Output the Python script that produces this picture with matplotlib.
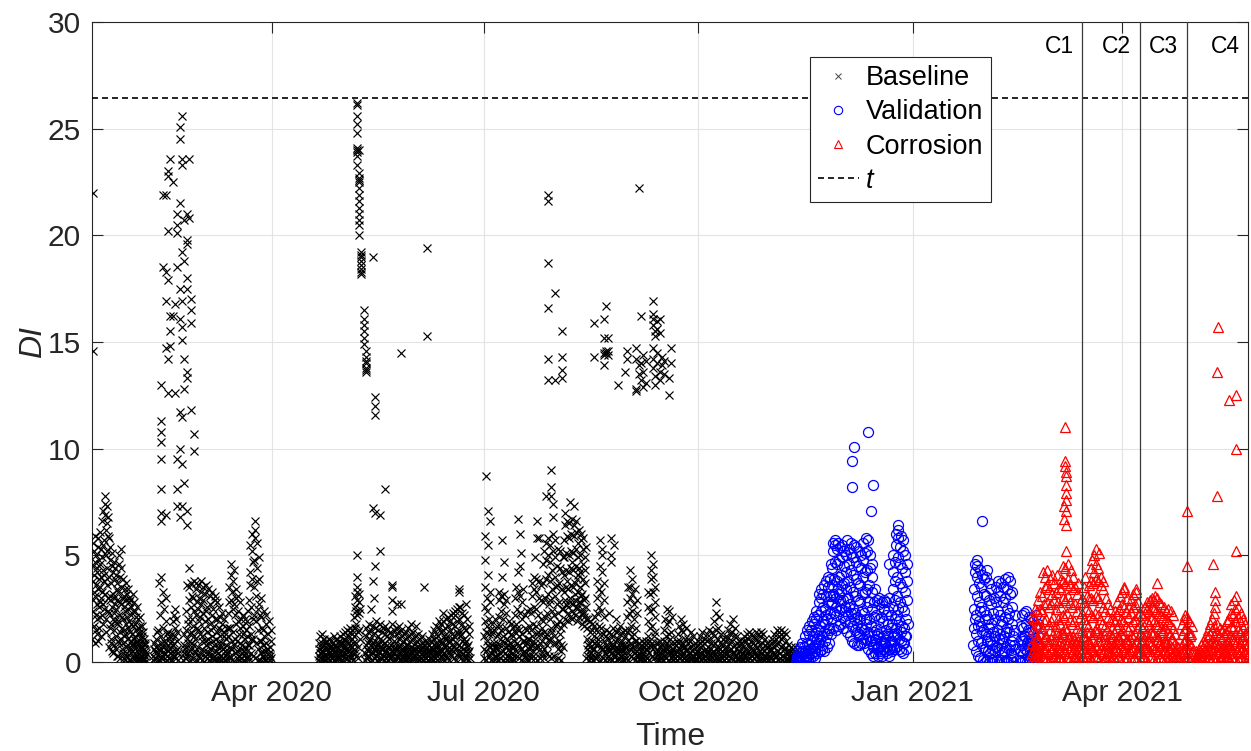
"""
Damage index (DI) over time: baseline, validation and corrosion periods.
"""

from datetime import datetime, timedelta

import matplotlib
matplotlib.use("Agg")
import matplotlib.pyplot as plt
import matplotlib.dates as mdates
from matplotlib.lines import Line2D

plt.rcParams["font.family"] = ["Liberation Sans", "DejaVu Sans"]

# --------------------------------------------------------------------------- #
#  Data: one string of DI values per day, "" = no record that day
# --------------------------------------------------------------------------- #
BASELINE_WINTER_START = "2020-01-15"
BASELINE_WINTER = [
    # Jan 15 - Jan 31
    "1.1 2.4 3.8 5.6 4.5 2.9 1.7 5.2 3.3 4.1",
    "0.9 3.1 4.7 5.9 2.2 1.5 3.6 5.0 2.7 4.4",
    "1.3 2.0 4.2 5.4 3.4 1.0 5.8 2.6 3.9 4.8",
    "1.6 2.8 3.5 6.1 4.6 2.1 5.3 1.2 3.0 4.0",
    "2.2 3.3 4.9 6.6 7.1 5.5 2.7 4.3 1.8 3.8",
    "2.5 4.1 5.7 7.8 6.9 7.4 3.2 5.0 6.2 2.0",
    "1.4 3.6 5.2 7.3 6.5 4.4 2.4 5.9 3.0 6.8",
    "0.7 2.3 4.0 5.8 3.1 1.6 4.8 2.9 5.4 1.1",
    "0.9 1.8 3.7 5.1 2.6 4.5 0.5 3.2 2.0 4.2",
    "0.4 1.5 3.0 4.7 2.3 0.8 3.9 1.9 2.7 4.4",
    "0.6 1.2 2.5 4.1 3.4 0.3 1.8 2.9 3.7 1.0",
    "0.3 1.9 3.3 5.0 4.6 2.2 0.9 2.8 4.0 1.4",
    "0.2 1.1 2.7 5.3 4.4 3.5 1.6 0.6 3.0 2.1",
    "0.4 0.9 2.0 3.9 3.1 1.5 2.6 0.2 1.2 3.4",
    "0.1 1.3 2.4 3.7 2.9 0.7 1.8 3.2 0.4 2.1",
    "0.3 0.8 1.6 3.4 2.5 1.1 2.8 0.1 1.9 3.0",
    "0.1 0.6 1.4 2.9 2.2 1.0 1.8 0.4 2.6 0.8",
    # Feb 1 - Feb 29
    "0.0 0.5 1.3 3.2 2.4 0.9 1.7 0.3 2.8 1.1",
    "0.2 0.7 1.2 2.4 1.8 0.4 1.5 0.1 2.1 0.9",
    "0.0 0.3 1.0 2.6 1.6 0.6 2.0 0.2 1.3 0.8",
    "0.1 0.4 0.9 2.1 1.4 0.2 1.7 0.6 1.1 0.3",
    "0.0 0.3 0.7 1.7 1.2 0.5 1.4 0.1 0.9 0.2",
    "0.1 0.2 0.6 1.1 0.8 0.3 0.9 0.0 0.5 0.4",
    "", "", "",
    "0.1 0.3 0.6 0.9 0.2 0.5",
    "0.2 0.4 1.1 0.7 0.0 1.4",
    "0.3 0.8 1.5 3.7 0.1 0.6 2.2",
    "0.1 0.5 1.2 2.8 4.0 0.9 0.3",
    "0.2 0.7 1.6 3.3 0.4 1.0 2.5",
    "0.0 0.4 0.9 1.9 3.0 0.6 1.3",
    "0.1 0.3 0.8 1.4 0.5 1.1 0.2",
    "0.2 0.6 0.9 1.2 0.4 0.1",
    "0.1 0.5 1.3 1.9 0.8 0.3 2.2",
    "0.3 0.9 1.6 2.5 1.2 0.5 2.0",
    "0.2 0.6 1.0 1.4 0.4 0.1",
    "", "",
    "0.1 0.4 0.8 1.3 0.6 0.2",
    "0.2 0.7 1.5 2.4 3.6 1.1 0.4 2.0",
    "0.3 0.9 1.8 2.9 4.4 3.5 1.3 0.5",
    "0.1 0.6 1.4 2.6 3.7 3.1 2.0 0.9",
    "0.2 0.8 1.7 3.0 3.8 2.4 1.2 0.4",
    "0.0 0.5 1.1 2.2 3.4 3.7 2.8 1.6",
    "0.1 0.7 1.5 2.5 3.6 3.0 1.9 0.3",
    # Mar 1 - Mar 31
    "0.2 0.4 1.3 2.1 3.3 3.8 2.7 1.0",
    "0.1 0.6 1.2 2.3 3.5 2.9 1.6 0.5",
    "0.0 0.3 1.0 1.9 3.2 3.6 2.4 0.8",
    "0.2 0.5 1.4 2.6 3.4 2.0 1.1 0.3",
    "0.1 0.4 0.9 1.8 3.1 2.7 1.5 0.6",
    "0.0 0.6 1.2 2.2 3.3 2.5 1.0 0.2",
    "0.1 0.3 0.8 1.7 2.9 3.1 2.0 0.5",
    "0.2 0.5 1.1 2.0 2.8 1.4 0.7 0.1",
    "0.0 0.4 0.9 1.6 2.6 2.1 1.2 0.3",
    "0.1 0.3 0.7 1.5 2.3 1.8 0.9 0.2",
    "0.0 0.2 0.6 1.2 2.0 1.4 0.5 0.1",
    "0.1 0.3 0.8 1.1 1.6 0.4",
    "0.1 0.5 1.2 2.3 3.5 2.8 1.6 0.3",
    "0.2 0.7 1.6 2.9 4.1 4.6 3.3 1.0",
    "0.1 0.6 1.4 2.5 3.8 4.3 2.7 0.8",
    "0.0 0.4 1.1 2.2 3.4 3.0 1.8 0.5",
    "0.2 0.5 1.0 1.9 3.1 2.4 1.3 0.3",
    "0.1 0.3 0.9 1.6 2.8 2.0 0.6 0.2",
    "0.0 0.4 0.8 1.3 2.2 1.7 0.5",
    "0.1 0.3 0.7 1.1 2.0 1.5 0.2",
    "0.0 0.5 1.2 1.9 2.4 0.8 0.3",
    "0.2 0.8 1.7 2.9 4.2 5.5 3.6 1.1",
    "0.4 1.3 2.6 3.9 5.2 6.0 4.7 2.0",
    "0.3 1.1 2.2 3.5 4.8 6.6 5.8 6.2",
    "0.2 0.9 1.9 3.1 4.4 5.6 3.8 2.5",
    "0.1 0.6 1.5 2.7 3.9 4.9 2.2 1.0",
    "0.1 0.4 1.0 2.1 3.0 1.6 0.5",
    "0.0 0.3 0.8 1.5 2.4 1.2 0.2",
    "0.1 0.5 0.9 1.8 2.2 0.6",
    "0.0 0.2 0.6 1.3 1.9 0.4",
    "0.1 0.3 0.7 1.0 1.5 0.2",
]

BASELINE_SPRING_START = "2020-04-21"
BASELINE_SPRING = [
    # Apr 21 - Apr 30
    "0.1 0.3 0.6 0.9 1.2 0.4 0.2",
    "0.0 0.4 0.7 1.3 0.9 0.5 0.2",
    "0.2 0.5 0.8 1.1 0.3 0.6 0.1",
    "0.1 0.3 0.9 1.0 0.6 0.2 0.8",
    "0.0 0.2 0.5 0.8 1.1 0.4 0.7",
    "0.1 0.4 0.7 1.0 0.3 0.6 0.2",
    "0.2 0.3 0.6 0.9 1.2 0.5 0.1",
    "0.0 0.5 0.8 1.1 0.4 0.7 0.2",
    "0.1 0.3 0.6 0.9 0.2 1.0 0.4",
    "0.2 0.4 0.8 1.2 0.5 0.9 0.1",
    # May 1 - May 31
    "0.1 0.5 0.9 1.3 0.7 0.3 1.1",
    "0.0 0.4 0.8 1.4 1.0 0.6 0.2",
    "0.2 0.6 1.0 1.5 1.2 0.5 0.3",
    "0.1 0.5 0.9 1.4 1.6 0.8 0.3",
    "0.2 0.7 1.1 1.5 1.3 0.4 0.9",
    "0.1 0.6 1.2 2.1 2.6 3.1 1.6 0.4",
    "0.3 0.9 1.8 2.4 2.9 3.3 3.5 2.2 1.4",
    "0.2 0.7 1.5 2.3 2.8 3.2 2.5 1.1",
    "", "",
    "0.1 0.4 0.8 1.2 1.6 0.6 0.3",
    "0.2 0.5 0.9 1.4 1.8 1.0 0.3",
    "0.0 0.6 1.1 1.5 2.5 0.8 0.4",
    "0.1 0.4 0.9 1.3 1.7 3.0 0.6",
    "0.2 0.5 1.0 1.6 1.9 0.7 0.3",
    "0.1 0.3 0.8 1.2 1.5 0.9 0.5",
    "0.0 0.4 0.7 1.1 1.8 0.6 0.2",
    "0.2 0.6 1.0 1.4 1.6 0.8 0.3",
    "0.1 0.3 0.9 1.3 1.7 0.5 0.2",
    "0.0 0.5 0.8 1.2 1.5 0.7 0.3",
    "0.1 0.4 0.7 1.1 1.4 0.6 0.2",
    "0.2 0.3 0.8 1.3 1.8 2.4 0.5",
    "0.0 0.4 0.6 1.0 1.5 0.7 0.2",
    "0.1 0.5 0.9 1.3 1.6 2.7 0.3",
    "0.2 0.3 0.7 1.1 1.4 1.7 0.5",
    "0.1 0.4 0.8 1.2 1.5 0.6 0.2",
    "0.0 0.3 0.6 1.0 1.3 0.5 0.2",
    "0.1 0.4 0.7 1.1 1.4 0.8 0.3",
    "0.2 0.5 0.8 1.2 1.6 0.4 0.1",
    "0.0 0.3 0.6 1.0 1.3 1.8 0.5",
    "0.1 0.4 0.7 1.1 1.4 0.6 0.2",
    # Jun 1 - Jun 24
    "0.2 0.3 0.6 0.9 1.2 1.7 0.4",
    "0.0 0.4 0.7 1.0 1.3 0.5 0.2",
    "0.1 0.3 0.5 0.8 1.1 0.6 0.2",
    "0.0 0.2 0.6 0.9 1.2 0.4 0.1",
    "0.1 0.3 0.5 0.8 1.0 0.6 0.2",
    "0.0 0.2 0.4 0.7 0.9 0.5 0.1",
    "0.1 0.3 0.5 0.8 1.1 0.4 0.2",
    "0.0 0.4 0.7 1.0 1.3 0.6 0.2",
    "0.1 0.3 0.6 1.1 1.5 0.8 0.4",
    "0.2 0.5 0.9 1.3 1.7 0.7 0.3",
    "0.1 0.4 0.8 1.2 1.6 1.9 0.5",
    "0.0 0.6 1.0 1.4 1.8 0.9 0.3",
    "0.2 0.5 0.9 1.5 1.9 1.2 0.4",
    "0.1 0.7 1.1 1.6 2.0 0.8 0.3",
    "0.2 0.6 1.2 1.7 2.1 1.0 0.4",
    "0.1 0.5 1.0 1.5 1.9 2.2 0.6",
    "0.3 0.8 1.3 1.8 2.3 1.1 0.5",
    "0.2 0.7 1.2 1.7 2.2 2.4 0.6",
    "0.1 0.9 1.4 1.9 2.5 1.3 0.4",
    "0.3 0.8 1.5 2.0 2.6 1.2 0.5",
    "0.2 0.7 1.3 1.8 2.3 1.0 0.4",
    "0.1 0.6 1.1 1.6 2.2 0.9 0.3",
    "0.2 0.5 1.0 1.5 2.0 0.7 0.2",
    "0.1 0.4 0.8 1.3 1.7 0.5 0.2",
]

BASELINE_SUMMER_START = "2020-07-01"
BASELINE_SUMMER = [
    # Jul 1 - Jul 31
    "0.2 0.6 1.2 1.9 2.6 3.5 4.8 5.9 8.7 1.4",
    "0.1 0.5 1.0 1.7 2.4 3.0 4.1 5.5 7.1 0.8",
    "0.3 0.7 1.3 2.0 2.8 3.3 6.6 1.5 0.4",
    "0.1 0.4 0.8 1.3 1.8 0.6 0.2",
    "0.0 0.5 0.9 1.5 2.0 0.7 0.3",
    "0.2 0.3 0.7 1.2 1.7 0.9 0.1",
    "0.1 0.6 1.3 2.1 2.9 3.3 1.7 0.4",
    "0.2 0.8 1.5 2.4 3.1 4.0 5.7 1.0",
    "0.1 0.5 1.2 2.0 2.7 3.2 4.7 0.7",
    "0.0 0.4 0.9 1.6 2.3 2.9 1.1 0.3",
    "0.1 0.3 0.8 1.4 1.9 0.6 0.2",
    "0.0 0.5 0.9 1.3 1.8 0.7 0.2",
    "0.2 0.4 0.7 1.2 1.6 1.0 0.3",
    "0.1 0.7 1.4 2.2 3.0 3.5 1.8 0.5",
    "0.3 0.9 1.6 2.5 3.3 4.2 6.7 1.2",
    "0.2 0.8 1.5 2.3 3.1 4.5 6.0 5.1 0.6",
    "0.1 0.6 1.3 2.0 2.8 3.4 1.0 0.4",
    "0.0 0.5 1.0 1.6 2.2 0.8 0.3",
    "0.2 0.4 0.9 1.5 2.4 1.1 0.1",
    "0.1 0.6 1.1 1.7 2.5 0.7 0.3",
    "0.2 0.8 1.5 2.3 3.1 3.7 1.2 0.5",
    "0.3 1.0 1.8 2.6 3.4 4.0 4.9 0.7",
    "0.2 0.9 1.7 2.5 3.3 3.9 5.8 6.6 1.3",
    "0.1 0.7 1.4 2.2 3.0 3.8 5.8 0.9",
    "0.2 0.6 1.3 2.0 2.9 3.6 1.6 0.4",
    "0.3 1.0 1.9 2.8 3.7 4.6 5.2 1.4 0.6",
    "0.2 1.2 2.1 3.0 3.9 4.8 5.6 7.8 0.8",
    "0.4 1.3 2.3 3.2 4.1 5.0 5.8 2.7 1.0",
    "0.3 1.1 2.0 2.9 3.8 4.7 5.5 7.8 9.0 8.2 1.6",
    "0.2 1.4 2.4 3.4 4.3 5.2 6.0 7.4 6.8 0.9",
    "0.3 1.2 2.2 3.1 4.0 4.9 5.7 3.5 1.7",
    # Aug 1 - Aug 31
    "0.1 0.9 1.8 2.7 3.6 4.5 5.3 2.3 0.6",
    "0.2 1.0 1.9 2.8 3.7 4.4 5.2 1.3 0.5",
    "0.1 0.8 1.6 2.5 3.4 4.2 4.9 0.7",
    "1.8 2.5 3.3 4.1 4.9 5.7 6.4 7.0 2.9",
    "2.0 2.7 3.5 4.3 5.1 5.9 6.6 3.8 2.3",
    "1.9 2.6 3.4 4.2 5.0 5.8 6.5 7.5 3.0",
    "2.1 2.8 3.6 4.4 5.2 6.0 6.7 4.7 2.4",
    "2.0 2.7 3.5 4.3 5.1 5.9 6.4 7.3 3.2",
    "2.2 2.9 3.7 4.5 5.3 6.1 6.6 3.9 2.5",
    "1.9 2.6 3.3 4.1 4.9 5.6 6.2 4.4 2.8",
    "2.1 2.8 3.5 4.2 5.0 5.7 6.0 3.1 2.3",
    "1.8 2.5 3.2 3.9 4.6 5.3 5.8 2.9 2.1",
    "1.7 2.3 3.0 3.7 4.3 4.9 5.4 2.6 2.0",
    "0.2 0.6 1.1 1.6 2.0 0.8 0.3",
    "0.1 0.5 0.9 1.4 1.9 0.7 0.2",
    "0.3 0.4 1.0 1.5 1.8 0.6 0.1",
    "0.1 0.6 1.2 1.7 2.1 0.9 0.2",
    "0.2 0.8 1.5 2.3 3.0 3.8 1.1 0.4",
    "0.3 0.9 1.7 2.6 3.4 4.5 5.7 1.3",
    "0.1 0.7 1.6 2.4 3.3 4.2 5.3 5.0 0.6",
    "0.2 0.6 1.3 2.1 2.9 3.7 1.0 0.4",
    "0.1 0.4 0.8 1.2 1.5 0.6 0.2",
    "0.0 0.3 0.7 1.1 1.4 2.3 0.5",
    "0.2 0.5 0.9 1.3 4.7 5.0 5.8 0.7",
    "0.1 0.4 0.8 1.2 1.6 5.5 0.3",
    "0.0 0.3 0.6 1.0 1.4 2.0 0.5",
    "0.1 0.4 0.7 1.1 1.5 0.6 0.2",
    "0.2 0.5 0.9 1.3 1.7 0.8 0.3",
    "0.0 0.3 0.6 1.0 1.4 0.5 0.1",
    "0.1 0.4 0.8 1.2 1.5 0.7 0.2",
    "0.2 0.7 1.4 2.1 2.8 3.5 1.0 0.4",
    # Sep 1 - Sep 30
    "0.1 0.8 1.5 2.3 3.0 3.5 4.3 0.6",
    "0.3 0.9 1.7 2.4 3.2 3.9 1.2 0.5",
    "0.2 0.7 1.3 2.0 2.7 3.4 1.0 0.4",
    "0.1 0.5 1.0 1.6 2.3 2.9 0.8 0.3",
    "0.0 0.3 0.6 0.9 0.4 0.2",
    "0.1 0.2 0.5 0.8 1.0 0.3",
    "0.0 0.4 0.7 0.9 0.5 0.1",
    "0.1 0.3 0.6 0.8 1.0 0.2",
    "0.2 0.6 1.2 1.9 2.6 3.3 1.0 0.4",
    "0.1 0.8 1.6 2.4 3.2 3.9 4.3 5.0 0.7",
    "0.3 0.9 1.7 2.5 3.3 4.0 4.6 1.2",
    "0.2 0.7 1.4 2.1 2.8 3.5 0.9 0.4",
    "0.0 0.3 0.6 0.9 0.5 0.1",
    "0.1 0.4 0.7 1.0 0.3 0.2",
    "0.0 0.2 0.5 0.8 0.6 0.1",
    "0.1 0.5 1.0 1.5 2.0 0.7 0.3",
    "0.2 0.6 1.2 1.8 2.5 0.9 0.4",
    "0.1 0.7 1.3 1.9 2.4 1.1 0.5",
    "0.0 0.4 0.9 1.4 2.1 0.6 0.2",
    "0.1 0.3 0.6 0.9 0.4 0.2",
    "0.0 0.2 0.5 0.8 1.0 0.3",
    "0.1 0.5 0.9 1.3 1.7 0.6 0.2",
    "0.2 0.6 1.0 1.5 2.0 0.8 0.3",
    "0.1 0.4 0.9 1.4 1.8 0.7 0.2",
    "0.0 0.3 0.7 1.1 1.6 0.5 0.1",
    "0.1 0.3 0.6 0.9 1.1 0.4",
    "0.0 0.4 0.7 1.0 1.4 0.2",
    "0.1 0.2 0.5 0.8 1.2 0.3",
    "0.0 0.3 0.6 0.9 0.4 0.1",
    "0.1 0.2 0.5 0.8 1.0 0.3",
    # Oct 1 - Oct 31
    "0.0 0.3 0.6 0.9 1.2 0.4",
    "0.1 0.4 0.7 1.0 1.4 0.2",
    "0.0 0.2 0.5 0.9 1.1 0.3",
    "0.1 0.3 0.6 1.0 1.3 0.5",
    "0.0 0.4 0.7 1.1 1.5 0.2",
    "0.1 0.3 0.6 0.9 1.4 0.4",
    "0.0 0.5 0.8 1.2 1.9 0.3",
    "0.1 0.4 0.9 1.5 2.3 2.8 0.6",
    "0.0 0.3 0.7 1.1 1.6 2.1 0.2",
    "0.1 0.4 0.6 0.9 1.3 0.3",
    "0.0 0.2 0.5 0.8 1.1 0.4",
    "0.1 0.3 0.6 1.0 1.2 0.2",
    "0.0 0.4 0.7 1.1 1.5 0.3",
    "0.1 0.5 0.9 1.3 1.8 0.6",
    "0.2 0.6 1.0 1.4 2.0 0.4",
    "0.1 0.4 0.8 1.2 1.6 0.3",
    "0.0 0.3 0.6 0.9 1.2 0.2",
    "0.1 0.2 0.5 0.8 1.0 0.3",
    "0.0 0.3 0.6 0.9 0.4 0.1",
    "0.1 0.4 0.7 1.0 1.2 0.2",
    "0.0 0.3 0.6 1.0 1.3 0.4",
    "0.1 0.5 0.8 1.1 1.4 0.2",
    "0.0 0.4 0.7 1.0 1.3 0.3",
    "0.1 0.3 0.6 0.9 1.2 0.5",
    "0.2 0.4 0.8 1.1 1.4 0.3",
    "0.0 0.3 0.7 1.0 1.3 0.2",
    "0.1 0.5 0.8 1.2 1.4 0.4",
    "0.0 0.4 0.6 0.9 1.3 0.2",
    "0.1 0.3 0.5 0.8 1.1 0.3",
    "0.0 0.2 0.4 0.7 0.9 0.1",
    "0.1 0.3 0.5 0.8 0.6 0.2",
    # Nov 1 - Nov 11
    "0.0 0.2 0.6 0.9 1.1 0.4",
    "0.1 0.4 0.7 1.0 1.3 0.3",
    "0.0 0.3 0.8 1.1 1.5 0.5",
    "0.1 0.5 0.9 1.2 1.4 0.2",
    "0.0 0.4 0.7 1.1 1.5 0.3",
    "0.1 0.3 0.8 1.2 1.4 0.6",
    "0.0 0.4 0.6 1.0 1.3 0.2",
    "0.1 0.2 0.5 0.8 0.4 0.1",
    "0.0 0.3 0.5 0.7 0.2",
    "0.1 0.2 0.4 0.6 0.3",
    "0.0 0.2 0.5 0.7 0.1",
]

# isolated high baseline readings: day, values
BASELINE_SPIKE_DAYS = [
    "2020-01-15", "2020-02-13", "2020-02-14", "2020-02-15", "2020-02-16",
    "2020-02-17", "2020-02-18", "2020-02-19", "2020-02-20", "2020-02-21",
    "2020-02-22", "2020-02-23", "2020-02-24", "2020-02-25", "2020-02-26",
    "2020-02-27",
    "2020-05-07", "2020-05-08", "2020-05-09", "2020-05-10", "2020-05-11",
    "2020-05-14", "2020-05-15", "2020-05-17", "2020-05-19", "2020-05-22",
    "2020-05-26", "2020-06-05", "2020-06-06", "2020-06-13", "2020-06-20",
    "2020-06-23",
    "2020-07-28", "2020-07-31", "2020-08-03", "2020-08-17", "2020-08-21",
    "2020-08-22", "2020-08-23", "2020-08-27", "2020-08-30", "2020-08-31",
    "2020-09-04", "2020-09-05", "2020-09-06", "2020-09-07", "2020-09-08",
    "2020-09-11", "2020-09-12", "2020-09-13", "2020-09-14", "2020-09-15",
    "2020-09-16", "2020-09-18", "2020-09-19",
]
BASELINE_SPIKE_DI = [
    "22.0 14.6", "13.0 11.3 10.8 10.3 9.5 8.1 7.0 6.6", "21.9 18.5",
    "21.9 18.3 16.9 14.7 6.9", "23.0 22.8 20.2 17.9 12.6 14.2",
    "23.6 15.5 16.2 14.8", "22.5 16.2", "16.8 12.6",
    "21.0 20.5 20.1 18.5 9.5 8.1 7.3", "21.5 16.1 11.7 10.0 6.8 25.1 24.5 17.5",
    "25.6 23.6 23.3 19.2 16.9 15.7 15.1 11.5 9.3 7.3",
    "20.7 18.8 14.2 12.8 8.4", "18.0 17.5 19.6 13.6 6.4 21.0 19.8 13.3 7.1",
    "23.6 20.8", "17.0 16.5 15.9 11.8", "9.9 10.7",
    "26.2 26.1 25.6 25.2 24.8 24.1 24.0 23.9 23.7 23.3 5.0 4.0",
    "24.0 22.9 22.7 22.6 22.5 22.2 21.9 21.6 21.3 21.0 20.7 20.5 20.0",
    "19.2 19.1 19.0 18.8 18.6 18.4 18.3 18.2",
    "16.5 16.1 15.8 15.5 15.2 14.9",
    "14.6 14.3 14.1 14.0 13.8 13.7 13.6",
    "19.0 7.2 3.8", "12.4 12.0 11.6 7.0 4.5", "6.9 5.2", "8.1",
    "3.6 3.5 2.9", "14.5 2.7", "3.5", "19.4 15.3", "2.3", "3.4 3.3 2.6",
    "2.7",
    "21.9 21.6 18.7 16.6 14.2 13.2", "17.3 13.2", "15.5 14.3 13.7 13.3",
    "15.9 14.3", "16.1 15.2 14.5 14.4 13.9", "16.7 14.6 14.5",
    "15.2 14.4 14.6", "13.0", "13.6", "14.6 14.2",
    "12.7 12.8 14.7 14.2", "22.2 13.9 13.5", "16.2 13.2 14.0",
    "12.9 13.6 14.4", "13.1 14.1",
    "16.9 16.3 16.1 15.8 14.7 14.2 13.8", "15.5 15.3 13.4 13.0",
    "16.0 15.6 14.5 14.0", "15.4 16.1 13.6 13.2", "14.3 13.9",
    "14.1 13.5", "12.5 13.3", "14.7 14.0",
]

VALIDATION_AUTUMN_START = "2020-11-12"
VALIDATION_AUTUMN = [
    # Nov 12 - Nov 30
    "0.0 0.1 0.3 0.5 0.2",
    "0.1 0.2 0.4 0.7 0.3",
    "0.0 0.3 0.5 0.9 0.2",
    "0.1 0.4 0.7 1.2 0.3",
    "0.2 0.5 0.9 1.5 0.4",
    "0.1 0.3 0.8 1.3 1.7 0.6",
    "0.2 0.6 1.0 1.5 1.9 0.4",
    "0.3 0.7 1.2 1.8 2.1 0.5",
    "0.2 0.8 1.4 2.0 2.4 1.1",
    "0.4 0.9 1.5 2.2 2.8 3.2 1.2",
    "0.5 1.1 1.7 2.4 3.0 3.4 0.8",
    "0.6 1.2 1.9 2.6 3.2 3.6 1.4",
    "0.5 1.0 1.8 2.5 3.1 3.8 2.2",
    "0.7 1.3 2.0 2.8 3.5 4.0 1.6",
    "0.9 1.5 2.3 3.1 3.9 4.6 2.7",
    "1.3 2.0 2.8 3.6 4.4 5.2 5.6 3.2",
    "1.6 2.3 3.1 3.9 4.7 5.5 5.7 2.6",
    "1.5 2.2 3.0 3.8 4.6 5.3 5.6 3.4",
    "1.7 2.4 3.2 4.0 4.8 5.4 2.9",
    # Dec 1 - Dec 29
    "1.8 2.5 3.3 4.1 4.9 5.5 3.6",
    "1.6 2.1 2.9 3.7 4.5 5.2 2.4",
    "1.9 2.6 3.4 4.2 5.0 5.7 3.0",
    "1.4 2.2 3.0 3.8 4.6 5.3 2.6",
    "1.2 1.9 2.7 3.5 4.3 5.1 5.6 2.3 9.4 8.2",
    "1.0 1.7 2.5 3.3 4.1 4.9 5.5 2.0 10.1",
    "0.9 1.5 2.3 3.1 3.9 4.7 5.4 1.8",
    "0.8 1.4 2.1 2.9 3.7 4.5 5.2 1.2",
    "0.8 1.3 2.0 2.8 3.6 4.4 5.0 1.6",
    "0.9 1.6 2.4 3.2 4.0 4.8 5.6 1.1",
    "0.9 1.5 2.3 3.3 4.2 5.1 5.8 2.0",
    "1.1 1.8 2.6 3.4 4.3 5.2 5.7 1.4 10.8",
    "0.6 1.2 2.0 2.8 3.6 4.4 5.0 1.0 7.1",
    "0.4 1.0 1.7 2.5 3.3 4.0 4.6 0.7 8.3",
    "0.3 0.8 1.4 2.1 2.8 3.4 1.1",
    "0.4 0.9 1.5 2.2 2.9 1.2 0.6",
    "0.3 0.7 1.3 2.0 2.7 3.0 0.5",
    "0.4 0.8 1.4 2.1 2.8 1.0",
    "0.3 0.6 1.2 1.9 2.5 2.9 0.9",
    "0.5 0.9 1.5 2.2 2.8 1.3",
    "0.4 0.7 1.2 1.8 2.4 3.0 0.6 4.6",
    "0.3 0.6 1.0 1.6 2.2 0.8",
    "0.5 1.0 1.8 2.6 3.4 4.2 5.0 1.3",
    "0.6 1.2 2.0 2.9 3.8 4.7 5.5 6.0 1.6",
    "0.7 1.3 2.2 3.1 4.0 4.9 5.8 6.4 6.2 2.5",
    "0.6 1.1 1.9 2.8 3.7 4.6 5.4 5.9 1.4",
    "0.5 1.0 1.7 2.6 3.5 4.4 5.2 5.7 0.9",
    "0.4 0.9 1.6 2.4 3.3 4.2 5.0 1.2",
    "0.6 1.2 2.0 2.9 3.8 4.6 1.8",
]

VALIDATION_WINTER_START = "2021-01-27"
VALIDATION_WINTER = [
    # Jan 27 - Jan 31
    "0.8 1.6 2.5 3.4 4.2 4.6 2.0",
    "0.5 1.3 2.2 3.1 4.0 4.8 4.5 1.7",
    "0.3 1.0 1.9 2.8 3.7 4.3 2.4",
    "0.2 0.9 1.7 2.6 3.5 4.1 1.4 6.6",
    "0.1 0.7 1.5 2.4 3.2 3.9 2.0",
    # Feb 1 - Feb 23
    "0.0 0.6 1.3 2.2 3.1 4.0 4.3 1.0",
    "0.1 0.5 1.2 2.0 2.9 3.7 1.6",
    "0.0 0.4 1.0 1.8 2.7 3.4 0.8",
    "0.1 0.6 1.4 2.3 3.0 1.2",
    "0.0 0.5 1.2 2.0 2.8 3.5 0.7",
    "0.1 0.7 1.5 2.4 3.3 3.8 1.1",
    "0.0 0.6 1.3 2.2 3.1 3.7 1.8",
    "0.1 0.4 1.1 1.9 2.8 3.5 0.9",
    "0.0 0.5 1.2 2.1 3.0 3.9 1.4",
    "0.1 0.7 1.6 2.5 3.4 4.0 2.0",
    "0.0 0.6 1.4 2.3 3.2 3.8 0.8",
    "0.1 0.4 1.0 1.8 2.6 3.3 1.2",
    "0.0 0.3 0.8 1.5 2.2 0.6",
    "", "",
    "0.1 0.5 1.1 1.7 2.2 0.8",
    "0.0 0.4 1.0 1.6 2.3 1.2",
    "0.1 0.6 1.2 1.8 2.4 0.9",
    "0.0 0.5 1.0 1.5 2.1 0.7",
    "0.1 0.3 0.9 1.4 2.0 1.1",
    "0.0 0.4 0.8 1.3 1.9 0.6",
    "0.1 0.5 1.0 1.6 2.2 0.4",
    "0.0 0.3 0.7 1.2 1.8",
]

CORROSION_START = "2021-02-21"
CORROSION = [
    # Feb 21 - Feb 28
    "0.1 0.4 0.9 1.5 2.1 0.6",
    "0.0 0.3 0.8 1.4 2.0 2.5 1.1 0.5",
    "0.2 0.6 1.1 1.8 2.4 2.9 0.9 0.3",
    "0.1 0.5 1.0 1.7 2.5 3.3 1.3 0.4",
    "0.0 0.4 0.9 1.6 2.4 3.1 4.2 0.7",
    "0.2 0.5 1.1 1.9 2.7 3.5 4.0 1.2",
    "0.1 0.6 1.2 2.0 2.8 3.6 4.3 0.8",
    "0.0 0.4 1.0 1.8 2.6 3.4 3.9 1.5",
    # Mar 1 - Mar 31
    "0.1 0.5 1.1 1.9 2.7 3.2 4.1 0.6",
    "0.2 0.7 1.3 2.1 2.9 3.7 1.0 0.3",
    "0.0 0.4 0.9 1.7 2.5 3.3 4.1 1.4",
    "0.1 0.6 1.2 2.0 2.8 3.5 0.8 0.2",
    "0.2 0.5 1.0 1.8 2.6 3.4 3.9 1.3",
    "0.1 0.7 1.4 2.2 3.0 3.8 4.5 0.9 7.3 6.7",
    "0.0 0.6 1.3 2.1 2.9 3.7 4.4 1.6 0.4 11.0 9.4 9.2 8.9 8.7 8.3 7.9 7.6 7.1 6.4 5.2",
    "0.2 0.8 1.5 2.3 3.1 3.9 4.6 1.1",
    "0.1 0.5 1.2 2.0 2.8 3.6 4.3 0.7",
    "0.0 0.4 1.0 1.8 2.6 3.4 4.0 1.2",
    "0.2 0.6 1.1 1.9 2.7 3.5 0.9 0.3",
    "0.1 0.5 0.9 1.6 2.4 3.2 3.7 1.0",
    "0.0 0.3 0.8 1.4 2.1 2.8 0.6",
    "0.1 0.4 0.9 1.5 2.3 3.0 1.2",
    "0.2 0.6 1.2 2.0 2.8 3.5 4.0 0.8",
    "0.1 0.5 1.1 1.8 2.5 3.1 1.4 0.3",
    "0.0 0.4 1.0 1.7 2.4 3.0 3.6 0.9",
    "0.2 0.7 1.4 2.2 3.0 3.8 4.4 4.8 1.1",
    "0.1 0.6 1.3 2.1 2.9 3.7 4.2 5.0 0.5",
    "0.3 0.8 1.5 2.3 3.1 3.9 4.6 5.3 1.6",
    "0.2 0.7 1.4 2.2 3.0 3.8 4.4 5.1 1.0",
    "0.1 0.5 1.2 2.0 2.8 3.6 4.0 0.6",
    "0.0 0.4 1.0 1.8 2.6 3.4 3.8 1.3",
    "0.1 0.5 1.1 1.7 2.4 3.0 0.8",
    "0.2 0.4 0.9 1.5 2.1 2.7 0.5",
    "0.0 0.3 0.8 1.3 1.9 2.5 1.0",
    "0.1 0.4 0.7 1.2 1.6 2.0 0.3",
    "0.0 0.5 0.9 1.4 1.9 2.4 0.7",
    "0.1 0.6 1.0 1.6 2.2 2.8 1.2",
    "0.2 0.5 1.1 1.8 2.5 3.1 0.9",
    # Apr 1 - Apr 30
    "0.1 0.7 1.3 2.0 2.7 3.3 1.5",
    "0.0 0.6 1.2 1.9 2.6 3.5 3.4 0.8",
    "0.1 0.5 1.0 1.7 2.4 3.0 1.1",
    "0.2 0.4 0.9 1.5 2.1 2.6 0.6",
    "0.0 0.5 1.1 1.7 2.3 2.9 1.3",
    "0.1 0.6 1.2 1.9 2.6 3.2 0.7",
    "0.2 0.7 1.3 2.0 2.7 3.4 3.3 1.0",
    "0.1 0.5 1.0 1.6 2.2 2.8 0.5",
    "0.0 0.4 0.8 1.3 1.8 2.3 0.9",
    "0.1 0.5 1.0 1.6 2.2 1.2 0.3",
    "0.2 0.6 1.1 1.7 2.3 2.6 0.7",
    "0.1 0.7 1.3 1.9 2.5 2.8 1.0",
    "0.0 0.6 1.2 1.8 2.4 2.9 0.5",
    "0.2 0.8 1.4 2.0 2.6 3.0 1.3",
    "0.1 0.7 1.3 1.9 2.5 2.9 3.1 0.6",
    "0.0 0.6 1.2 1.8 2.4 3.0 3.7 1.1",
    "0.1 0.5 1.1 1.7 2.3 2.8 0.8",
    "0.2 0.6 1.0 1.6 2.2 2.7 1.4",
    "0.1 0.4 0.9 1.5 2.1 2.6 0.5",
    "0.0 0.5 1.0 1.6 2.0 2.4 0.9",
    "0.1 0.4 0.9 1.4 1.9 2.5 0.6",
    "0.2 0.5 0.8 1.3 1.8 2.4 1.1",
    "0.0 0.3 0.7 1.1 1.6 2.2 0.4",
    "0.1 0.2 0.5 0.9 1.3 0.6",
    "0.0 0.2 0.4 0.7 0.3",
    "",
    "0.1 0.4 0.8 1.3 1.8 0.6",
    "0.0 0.5 1.0 1.5 2.0 2.2 0.3",
    "0.1 0.6 1.1 1.6 2.1 4.5 7.1 0.8",
    "0.2 0.5 0.9 1.4 1.9 1.2",
    # May 1 - May 25
    "0.1 0.4 0.8 1.3 1.7 0.5",
    "",
    "0.0 0.1 0.3 0.5 0.2",
    "0.1 0.2 0.4 0.6 0.3",
    "0.0 0.3 0.5 0.8 0.2",
    "0.1 0.4 0.7 1.0 0.3",
    "0.0 0.3 0.6 0.9 1.2 0.5",
    "0.1 0.4 0.8 1.2 1.5 0.2",
    "0.2 0.5 0.9 1.3 1.8 0.7",
    "0.1 0.6 1.0 1.5 2.0 4.6 0.4",
    "0.2 0.7 1.2 1.7 2.3 2.6 2.9 3.3 0.9",
    "0.1 0.5 0.9 1.4 1.8 7.8 13.6 15.7 0.6",
    "0.0 0.4 0.8 1.2 1.6 0.5",
    "0.1 0.3 0.7 1.1 1.5 0.2",
    "0.0 0.4 0.8 1.3 1.6 0.6",
    "0.1 0.5 0.9 1.4 1.9 0.3",
    "0.2 0.6 1.0 1.5 2.0 12.3 0.8",
    "0.1 0.7 1.2 1.7 2.3 2.7 0.4",
    "0.2 0.6 1.1 1.6 2.2 2.9 1.0",
    "0.1 0.8 1.3 1.9 2.5 3.1 5.2 10.0 12.5",
    "0.0 0.5 1.0 1.5 2.1 2.6 0.7",
    "0.1 0.4 0.9 1.4 1.9 2.3 0.5",
    "0.2 0.6 1.1 1.6 2.0 1.2",
    "0.1 0.5 0.9 1.3 1.8 0.6",
    "0.0 0.4 0.8 1.2 1.5 0.3",
]

THRESHOLD = 26.45
CASE_ENDS = ["2021-03-14 18:00", "2021-04-08 10:00", "2021-04-28 16:00"]
CASE_LABELS = ["C1", "C2", "C3", "C4"]
X_RANGE = ["2020-01-14 22:00", "2021-05-24 22:00"]


# --------------------------------------------------------------------------- #
#  Helpers
# --------------------------------------------------------------------------- #
def expand_days(start, rows):
    """Spread each day's readings evenly over that day."""
    day0 = datetime.fromisoformat(start)
    times, values = [], []
    for k, row in enumerate(rows):
        vals = [float(s) for s in row.split()]
        for j, v in enumerate(vals):
            times.append(day0 + timedelta(days=k + (j + 0.5) / len(vals)))
            values.append(v)
    return times, values


def expand_spikes(days, rows):
    times, values = [], []
    for d, row in zip(days, rows):
        for s in row.split():
            times.append(datetime.fromisoformat(d) + timedelta(hours=12))
            values.append(float(s))
    return times, values


base_t, base_v = [], []
for start, rows in [(BASELINE_WINTER_START, BASELINE_WINTER),
                    (BASELINE_SPRING_START, BASELINE_SPRING),
                    (BASELINE_SUMMER_START, BASELINE_SUMMER)]:
    t, v = expand_days(start, rows)
    base_t += t
    base_v += v
t, v = expand_spikes(BASELINE_SPIKE_DAYS, BASELINE_SPIKE_DI)
base_t += t
base_v += v

val_t, val_v = [], []
for start, rows in [(VALIDATION_AUTUMN_START, VALIDATION_AUTUMN),
                    (VALIDATION_WINTER_START, VALIDATION_WINTER)]:
    t, v = expand_days(start, rows)
    val_t += t
    val_v += v

cor_t, cor_v = expand_days(CORROSION_START, CORROSION)

# --------------------------------------------------------------------------- #
#  Figure
# --------------------------------------------------------------------------- #
fig = plt.figure(figsize=(12.51, 7.51), dpi=100)
ax = fig.add_axes([92 / 1251, 89 / 751, 1156 / 1251, 640 / 751])

ax.plot(base_t, base_v, ls="none", marker="x", ms=5.4, mew=0.85,
        color="black", zorder=3)
ax.plot(val_t, val_v, ls="none", marker="o", ms=7.2, mew=0.9,
        mfc="none", mec=(0, 0, 1), zorder=4)
ax.plot(cor_t, cor_v, ls="none", marker="^", ms=7.6, mew=0.9,
        mfc="none", mec=(1, 0, 0), zorder=5)

dash = (0, (3.6, 2.4))
ax.axhline(THRESHOLD, color="black", ls=dash, lw=1.2, zorder=6)

x_lo, x_hi = [datetime.fromisoformat(s) for s in X_RANGE]
case_ends = [datetime.fromisoformat(s) for s in CASE_ENDS]
for c in case_ends:
    ax.axvline(c, color="#3a3a3a", lw=0.9, zorder=6)
for label, end in zip(CASE_LABELS, case_ends + [x_hi]):
    ax.annotate(label, xy=(mdates.date2num(end), 28.55), xycoords="data",
                xytext=(-6, 0), textcoords="offset points",
                ha="right", va="baseline", fontsize=16.5, color="black")

ax.set_xlim(x_lo, x_hi)
ax.set_ylim(0, 30)
ax.set_yticks(range(0, 31, 5))
ax.xaxis.set_major_locator(mdates.MonthLocator(bymonth=[1, 4, 7, 10]))
ax.xaxis.set_major_formatter(mdates.DateFormatter("%b %Y"))

ax.grid(True, color="#e3e3e3", lw=0.8)
ax.set_axisbelow(True)
for sp in ax.spines.values():
    sp.set_color("#262626")
    sp.set_linewidth(0.8)
ax.tick_params(direction="in", length=8, width=0.8, color="#262626",
               top=True, right=True, labelsize=21.5, labelcolor="#262626")
ax.tick_params(axis="x", pad=12)
ax.tick_params(axis="y", pad=8)

ax.set_xlabel("Time", fontsize=23, color="#262626", labelpad=11)
ax.set_ylabel("DI", fontsize=23, fontstyle="italic", color="#262626",
              labelpad=0)

handles = [
    Line2D([], [], ls="none", marker="x", ms=5, mew=0.7, color="#444444"),
    Line2D([], [], ls="none", marker="o", ms=6, mew=0.8, mfc="none",
           mec=(0, 0, 1)),
    Line2D([], [], ls="none", marker="^", ms=6, mew=0.8, mfc="none",
           mec=(1, 0, 0)),
    Line2D([], [], color="black", ls=dash, lw=1.2),
]
leg = ax.legend(handles, ["Baseline", "Validation", "Corrosion", "t"],
                loc="upper left", bbox_to_anchor=(0.621, 0.945),
                fontsize=19.5, frameon=True, fancybox=False, framealpha=1,
                edgecolor="#262626", borderpad=0.3, handlelength=1.5,
                handletextpad=0.25, labelspacing=0.3, borderaxespad=0)
leg.get_frame().set_linewidth(0.8)
leg.get_texts()[3].set_fontstyle("italic")
leg.set_zorder(10)

fig.savefig("out.png", dpi=100)
